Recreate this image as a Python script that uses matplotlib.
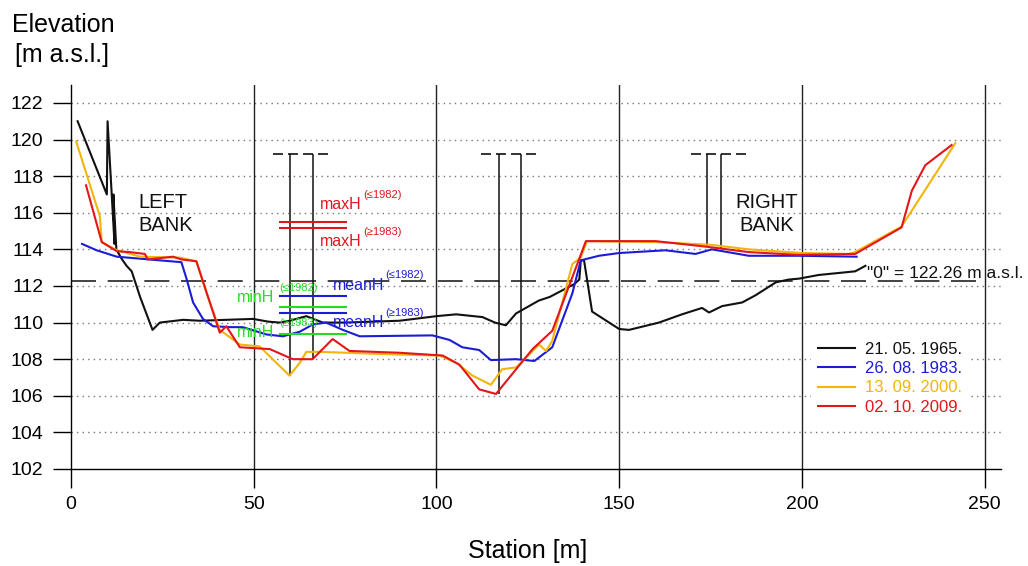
import matplotlib
matplotlib.use("Agg")
import matplotlib.pyplot as plt

plt.rcParams['font.family'] = ['Liberation Sans', 'DejaVu Sans']

# cross-section surveys: station [m] / elevation [m a.s.l.]
x_1965 = [1.8, 9.8, 10.0, 11.9, 11.6, 12.4, 13.8, 15.2, 16.6, 18.9, 22.3, 24.3, 30.7, 35.2,
          49.8, 54.0, 57.1, 59.8, 64.4, 68.9, 75.0, 89.9, 100.0, 105.4, 112.6, 116.0, 119.0,
          121.8, 128.0, 131.0, 137.7, 139.1, 139.5, 140.4, 142.6, 150.0, 152.7, 160.9, 167.2,
          172.7, 174.6, 178.2, 183.7, 187.4, 192.9, 196.4, 199.2, 204.6, 214.6, 217.4]
y_1965 = [121.0, 117.0, 121.0, 114.3, 117.0, 114.0, 113.5, 113.1, 112.8, 111.4, 109.6, 110.0,
          110.15, 110.1, 110.2, 110.05, 110.0, 110.1, 110.35, 110.0, 110.0, 110.1, 110.35,
          110.45, 110.3, 110.0, 109.85, 110.5, 111.2, 111.4, 112.1, 112.35, 113.4, 113.4,
          110.6, 109.65, 109.6, 110.0, 110.45, 110.8, 110.55, 110.9, 111.1, 111.5, 112.2,
          112.35, 112.4, 112.6, 112.8, 113.1]

x_1983 = [3.0, 7.0, 12.5, 30.2, 31.6, 33.4, 36.1, 38.9, 43.4, 47.0, 53.5, 58.0, 62.6, 66.2,
          69.8, 74.4, 79.0, 98.9, 103.6, 107.1, 111.7, 114.9, 121.8, 126.8, 131.7, 137.2,
          139.5, 144.5, 150.0, 162.7, 170.9, 175.4, 185.5, 199.2, 215.0]
y_1983 = [114.3, 113.95, 113.6, 113.3, 112.4, 111.1, 110.2, 109.8, 109.75, 109.75, 109.35,
          109.25, 109.5, 109.9, 110.0, 109.6, 109.25, 109.3, 109.05, 108.65, 108.5, 107.95,
          108.0, 107.9, 108.65, 111.6, 113.4, 113.65, 113.8, 113.95, 113.75, 114.0, 113.65,
          113.65, 113.6]

x_2000 = [1.4, 7.9, 8.4, 12.0, 18.9, 29.8, 34.3, 37.1, 40.7, 46.2, 51.6, 56.2, 59.8, 62.6,
          64.4, 68.0, 89.9, 100.8, 105.4, 109.9, 114.9, 118.0, 121.8, 128.1, 130.0, 131.7,
          137.2, 139.5, 141.2, 160.0, 175.0, 185.5, 200.0, 212.8, 214.6, 227.3, 242.0]
y_2000 = [119.9, 115.8, 114.4, 114.0, 113.6, 113.55, 113.35, 111.6, 109.6, 108.8, 108.7,
          107.8, 107.1, 107.8, 108.4, 108.4, 108.25, 108.2, 107.8, 107.1, 106.6, 107.45,
          107.55, 108.8, 108.45, 109.0, 113.2, 113.55, 114.45, 114.4, 114.25, 114.0, 113.8,
          113.75, 113.85, 115.25, 119.8]

x_2009 = [4.1, 8.4, 12.5, 16.1, 20.2, 21.0, 27.9, 30.2, 34.3, 40.7, 42.5, 46.2, 54.4, 60.7,
          66.1, 71.6, 76.2, 89.9, 101.7, 106.3, 111.7, 116.3, 126.3, 131.7, 140.9, 160.0,
          173.7, 185.5, 199.2, 214.6, 227.3, 230.1, 233.8, 241.0]
y_2009 = [117.5, 114.4, 113.9, 113.85, 113.75, 113.45, 113.6, 113.45, 113.35, 109.45, 109.8,
          108.65, 108.55, 108.0, 108.0, 109.1, 108.45, 108.35, 108.2, 107.7, 106.35, 106.1,
          108.55, 109.55, 114.45, 114.45, 114.15, 113.85, 113.7, 113.75, 115.2, 117.2,
          118.6, 119.7]

survey_labels = ['21. 05. 1965.', '26. 08. 1983.', '13. 09. 2000.', '02. 10. 2009.']
survey_colors = ['#111111', '#1c1cd6', '#f2b50a', '#e3161b']

# bridge piers (pairs) and their deck level
pier_x = [60.0, 66.2, 117.0, 123.1, 174.1, 178.0]
pier_bottom = [107.1, 108.0, 106.1, 108.0, 114.17, 114.1]
deck_level = 119.2
deck_start = [55.2, 112.2, 169.6]
deck_end = [70.8, 127.7, 185.0]

# characteristic water levels
max_levels = [115.48, 115.17]
mean_levels = [111.47, 110.54]
min_levels = [110.85, 109.38]
level_span = (56.8, 75.6)

zero_level = 112.26

fig = plt.figure(figsize=(10.28, 5.66), dpi=100)
ax = fig.add_axes([0.0691, 0.1714, 0.9046, 0.6784])

ax.set_xlim(0, 254.5)
ax.set_ylim(102, 122.98)

ax.set_xticks([0, 50, 100, 150, 200, 250])
ax.set_yticks(range(102, 123, 2))
ax.tick_params(axis='x', direction='out', length=13.5, width=1.0, color='black',
               labelsize=14, pad=6)
ax.tick_params(axis='y', direction='out', length=13, width=1.0, color='black',
               labelsize=14, pad=7)
for s in ['top', 'right']:
    ax.spines[s].set_visible(False)
for s in ['left', 'bottom']:
    ax.spines[s].set_linewidth(1.0)
    ax.spines[s].set_color('black')

# grid: solid verticals, dotted horizontals
for xv in [50, 100, 150, 200, 250]:
    ax.axvline(xv, color='#222222', lw=1.0, zorder=1)
for yv in range(104, 123, 2):
    ax.axhline(yv, color='#777777', lw=1.0, ls=(0, (1, 3)), zorder=0)

# reference level
ax.hlines(zero_level, 0, 250, colors='#222222', lw=1.2, linestyles=(0, (15, 7)), zorder=2)
ax.text(217.8, zero_level + 0.2, '"0" = 122.26 m a.s.l.', fontsize=12.5,
        ha='left', va='baseline', color='#111111')

# piers
for px, pb in zip(pier_x, pier_bottom):
    ax.vlines(px, pb, deck_level, colors='#111111', lw=1.1, zorder=3)
for d0, d1 in zip(deck_start, deck_end):
    ax.hlines(deck_level, d0, d1, colors='#111111', lw=1.2, linestyles=(0, (6, 3)), zorder=3)

# surveys
series = [(x_1965, y_1965), (x_1983, y_1983), (x_2000, y_2000), (x_2009, y_2009)]
handles = []
for (xs, ys), lab, col in zip(series, survey_labels, survey_colors):
    h, = ax.plot(xs, ys, color=col, lw=1.5, label=lab, zorder=4)
    handles.append(h)

# water level markers
for lv in max_levels:
    ax.hlines(lv, *level_span, colors='#e3161b', lw=1.5, zorder=5)
for lv in mean_levels:
    ax.hlines(lv, *level_span, colors='#1c1cd6', lw=1.5, zorder=5)
for lv in min_levels:
    ax.hlines(lv, *level_span, colors='#22dd22', lw=1.5, zorder=5)

def level_label(x, y, name, sup, color, xs):
    ax.text(x, y, name, fontsize=11.5, color=color, ha='left', va='center', zorder=6)
    ax.text(xs, y + 0.55, sup, fontsize=8, color=color, ha='left', va='center', zorder=6)

level_label(68.1, 116.43, 'maxH', '(\u22641982)', '#e3161b', 79.9)
level_label(68.1, 114.42, 'maxH', '(\u22651983)', '#e3161b', 79.9)
level_label(71.7, 112.05, 'meanH', '(\u22641982)', '#1c1cd6', 85.9)
level_label(71.7, 110.0, 'meanH', '(\u22651983)', '#1c1cd6', 85.9)
level_label(45.3, 111.36, 'minH', '(\u22641982)', '#22dd22', 56.9)
level_label(45.3, 109.45, 'minH', '(\u22651983)', '#22dd22', 56.9)

# bank labels
ax.text(18.3, 116.56, 'LEFT', fontsize=14.5, ha='left', va='center', color='#111111')
ax.text(18.3, 115.3, 'BANK', fontsize=14.5, ha='left', va='center', color='#111111')
ax.text(190.3, 116.56, 'RIGHT', fontsize=14.5, ha='center', va='center', color='#111111')
ax.text(190.3, 115.3, 'BANK', fontsize=14.5, ha='center', va='center', color='#111111')

leg = ax.legend(handles=handles, loc='center', bbox_to_anchor=(224.1, 106.95),
                bbox_transform=ax.transData, fontsize=12, handlelength=2.25,
                handletextpad=0.6, labelspacing=0.25, borderpad=0.4,
                frameon=True, fancybox=False, labelcolor='linecolor')
leg.get_frame().set_facecolor('white')
leg.get_frame().set_edgecolor('none')
leg.get_frame().set_alpha(1.0)

fig.text(11.7 / 1028, 1 - 25 / 566, 'Elevation', fontsize=18, ha='left', va='center')
fig.text(15 / 1028, 1 - 55 / 566, '[m a.s.l.]', fontsize=18, ha='left', va='center')
fig.text(528 / 1028, 1 - 551 / 566, 'Station [m]', fontsize=18, ha='center', va='center')

fig.savefig('out.png', dpi=100)
